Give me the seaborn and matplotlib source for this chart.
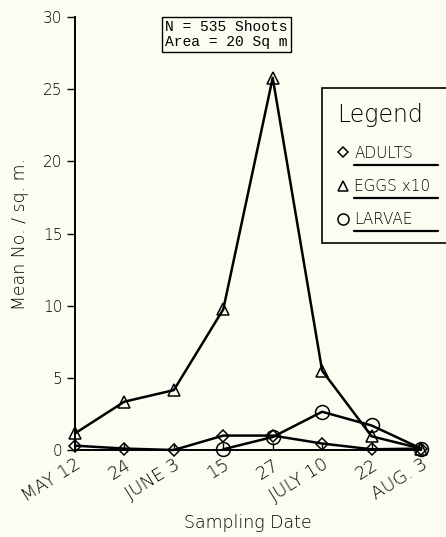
import pandas as pd
import matplotlib.pyplot as plt
from matplotlib.lines import Line2D
import seaborn as sns

# data
dates = ['MAY 12', '24', 'JUNE 3', '15', '27', 'JULY 10', '22', 'AUG. 3']
adults = [0.3, 0.1, 0.0, 1.0, 1.0, 0.45, 0.05, 0.1]
eggs = [1.15, 3.35, 4.15, 9.75, 25.8, 5.5, 0.95, 0.1]
larvae = [None, None, None, 0.05, 0.9, 2.65, 1.7, 0.1]
series = ['ADULTS', 'EGGS x10', 'LARVAE']
markers = {'ADULTS': 'D', 'EGGS x10': '^', 'LARVAE': 'o'}
msizes = {'ADULTS': 6, 'EGGS x10': 9, 'LARVAE': 10}

bg = '#fdfcf3'
sns.set_theme(style='ticks')
plt.rcParams['font.family'] = ['DejaVu Sans']
plt.rcParams['font.weight'] = 'ultralight'
plt.rcParams['axes.labelweight'] = 'ultralight'
plt.rcParams['text.color'] = 'black'
plt.rcParams['axes.labelcolor'] = 'black'
plt.rcParams['xtick.color'] = 'black'
plt.rcParams['ytick.color'] = 'black'

rows = []
for name, vals in zip(series, [adults, eggs, larvae]):
  for i, v in enumerate(vals):
    rows.append({'pos': i, 'value': v, 'series': name})
df = pd.DataFrame(rows).dropna()

fig = plt.figure(figsize=(4.46, 5.37), dpi=100, facecolor=bg)
ax = fig.add_axes([0.168, 0.162, 0.776, 0.806])
ax.set_facecolor(bg)

sns.lineplot(data=df, x='pos', y='value', hue='series', style='series',
             markers=markers, dashes=False, palette=['black'] * 3,
             linewidth=1.8, legend=False, ax=ax, zorder=3)

# open markers
for line, name in zip(ax.lines, series):
  line.set_markerfacecolor('none')
  line.set_markeredgecolor('black')
  line.set_markeredgewidth(1.1)
  line.set_markersize(msizes[name])
  line.set_clip_on(False)

ax.set_xlim(0, len(dates) - 1)
ax.set_ylim(0, 30)
ax.set_yticks(range(0, 31, 5))
ax.set_xticks(range(len(dates)))
ax.set_xticklabels(dates, rotation=32, ha='right', rotation_mode='anchor', fontsize=13)
ax.tick_params(axis='y', labelsize=11, length=6, width=1, direction='out', pad=3)
ax.tick_params(axis='x', length=5, width=1, direction='in', pad=4)
sns.despine(ax=ax)
for s in ['left', 'bottom']:
  ax.spines[s].set_linewidth(1.4)
  ax.spines[s].set_color('black')

ax.set_xlabel('Sampling Date', fontsize=12.5, va='center')
ax.xaxis.set_label_coords(0.5, -0.169)
ax.set_ylabel('Mean No. / sq. m.', fontsize=12.5, labelpad=10)

# info box
ax.text(0.438, 0.96, 'N = 535 Shoots\nArea = 20 Sq m', transform=ax.transAxes,
        ha='center', va='center', fontsize=10.5, family='Liberation Mono',
        linespacing=1.05,
        bbox=dict(boxstyle='square,pad=0.2', facecolor=bg, edgecolor='black', lw=1))

# legend, frame runs past the right edge of the figure
handles = [Line2D([], [], marker=markers[s], linestyle='none', markersize=msizes[s] * 0.8,
                  markerfacecolor='none', markeredgecolor='black', markeredgewidth=1.1)
           for s in series]
leg = ax.legend(handles, series, title='Legend', loc='upper left',
                bbox_to_anchor=(0.714, 0.436, 0.39, 0.4), mode='expand', borderaxespad=0,
                frameon=True, fancybox=False, fontsize=11, title_fontsize=17,
                handlelength=0.8, handletextpad=0.3, labelspacing=1.2, borderpad=1.0,
                alignment='left')
leg.get_frame().set_edgecolor('black')
leg.get_frame().set_facecolor(bg)
leg.get_frame().set_linewidth(1.2)
leg.get_frame().set_alpha(1)

# underline the legend labels
fig.canvas.draw()
inv = fig.transFigure.inverted()
for t in leg.get_texts():
  bb = t.get_window_extent()
  x0, y0 = inv.transform((bb.x0, bb.y0 - 4))
  fig.add_artist(Line2D([x0, 0.982], [y0, y0], color='black', lw=1.6))

fig.savefig('out.png', dpi=100, facecolor=bg)
